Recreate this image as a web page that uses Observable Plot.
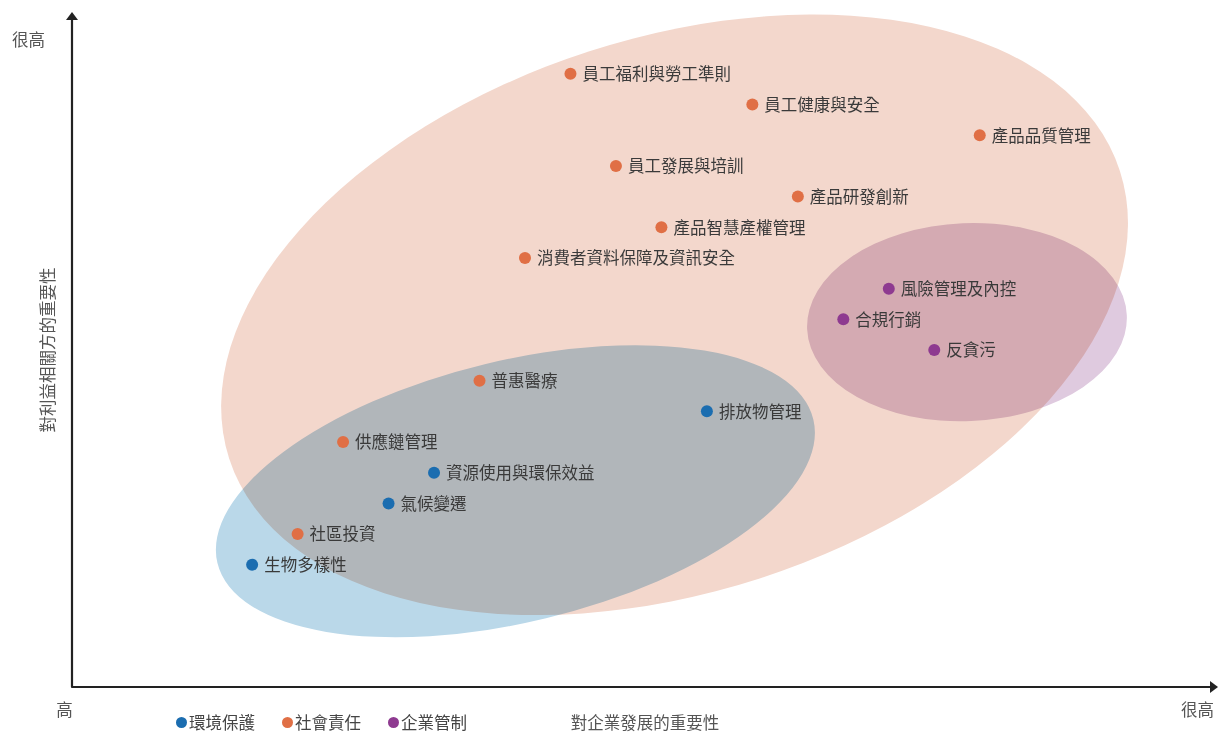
<!DOCTYPE html>
<html>
<head>
<meta charset="utf-8">
<script src="https://cdn.jsdelivr.net/npm/d3@7"></script>
<script src="https://cdn.jsdelivr.net/npm/@observablehq/plot@0.6"></script>
<style>
  body { margin: 0; background: #fff; font-family: "Noto Sans CJK TC", "Noto Sans", sans-serif; }
  #chart { width: 1220px; }
  .foot { position: relative; width: 1220px; height: 19px; margin-top: -5px; font-size: 16.5px; line-height: 19px; color: #444; }
  .foot .item { position: absolute; top: 0; display: flex; align-items: center; white-space: nowrap; }
  .foot .sw { width: 11px; height: 11px; border-radius: 50%; margin-right: 2px; }
  .foot .xtitle { position: absolute; left: 72px; width: 1146px; text-align: center; top: 0; color: #555; }
</style>
</head>
<body>
<div id="chart"></div>
<div class="foot" id="foot"></div>
<script>
// ---- data ----
const issues = [
  "員工福利與勞工準則", "員工健康與安全", "產品品質管理", "員工發展與培訓",
  "產品研發創新", "產品智慧產權管理", "消費者資料保障及資訊安全",
  "風險管理及內控", "合規行銷", "反貪污",
  "普惠醫療", "排放物管理", "供應鏈管理", "資源使用與環保效益",
  "氣候變遷", "社區投資", "生物多樣性"
];
const issueGroups = [
  "社會責任", "社會責任", "社會責任", "社會責任",
  "社會責任", "社會責任", "社會責任",
  "企業管制", "企業管制", "企業管制",
  "社會責任", "環境保護", "社會責任", "環境保護",
  "環境保護", "社會責任", "環境保護"
];
// importance to business development (x) and to stakeholders (y), as ranks 1..17
const businessRank = [8, 12, 17, 9, 13, 10, 7, 15, 14, 16, 6, 11, 3, 5, 4, 2, 1];
const stakeholderRank = [17, 16, 15, 14, 13, 12, 11, 10, 9, 8, 7, 6, 5, 4, 3, 2, 1];

const groupNames = ["環境保護", "社會責任", "企業管制"];
const groupColors = ["#1b6db0", "#e06f45", "#8e3a90"];

// grouping zones (centres in rank units)
const zoneGroups = ["社會責任", "環境保護", "企業管制"];
const zoneCenterX = [10.30, 6.80, 16.73];
const zoneCenterY = [9.13, 3.38, 8.89];

const xTickLabels = ["高", "很高"];
const yTickLabels = ["很高"];
const xTitle = "對企業發展的重要性";
const yTitle = "對利益相關方的重要性";

// ---- layout / style ----
const xDomain = [-2.95, 22.25];
const yDomain = [-3, 19];
const zoneShape = [
  { a: 468, b: 277, angle: 17.9 },
  { a: 306.5, b: 130.7, angle: 13.56 },
  { a: 160, b: 99, angle: 2.5 }
];
const zoneFill = { "社會責任": "#f3d7cc", "環境保護": "#bad8e9", "企業管制": "#dfcadf" };
const FONT = '"Noto Sans CJK TC", "Noto Sans", sans-serif';
const FS = 16.5;

const data = issues.map((name, i) => ({
  name, group: issueGroups[i], biz: businessRank[i], stake: stakeholderRank[i]
}));

function zonesMark(index, scales) {
  const g = d3.create("svg:g");
  zoneGroups.forEach((grp, i) => {
    const cx = scales.x(zoneCenterX[i]), cy = scales.y(zoneCenterY[i]);
    const s = zoneShape[i];
    g.append("ellipse")
      .attr("cx", cx).attr("cy", cy).attr("rx", s.a).attr("ry", s.b)
      .attr("transform", `rotate(${-s.angle} ${cx} ${cy})`)
      .attr("fill", zoneFill[grp])
      .style("mix-blend-mode", "multiply");
  });
  return g.node();
}

function axesMark(index, scales) {
  const x0 = scales.x(xDomain[0]), x1 = scales.x(xDomain[1]);
  const y0 = scales.y(yDomain[0]), y1 = scales.y(yDomain[1]);
  const g = d3.create("svg:g");
  g.append("path")
    .attr("d", `M${x0},${y1 + 6}V${y0}H${x1 - 6}`)
    .attr("fill", "none").attr("stroke", "#222").attr("stroke-width", 2.2)
    .attr("stroke-linejoin", "round");
  g.append("path").attr("d", `M${x0},${y1}L${x0 + 6},${y1 + 8}L${x0 - 6},${y1 + 8}Z`).attr("fill", "#222");
  g.append("path").attr("d", `M${x1},${y0}L${x1 - 8},${y0 - 6}L${x1 - 8},${y0 + 6}Z`).attr("fill", "#222");
  return g.node();
}

const axisText = { fill: "#555", fontSize: FS, textAnchor: "middle", lineAnchor: "middle" };

const plot = Plot.plot({
  width: 1220,
  height: 718,
  marginLeft: 72,
  marginRight: 2,
  marginTop: 12,
  marginBottom: 31,
  x: { domain: xDomain, axis: null },
  y: { domain: yDomain, axis: null },
  color: { domain: groupNames, range: groupColors },
  style: { fontFamily: FONT, fontSize: FS + "px", background: "white", overflow: "visible" },
  marks: [
    zonesMark,
    axesMark,
    Plot.dot(data, { x: "biz", y: "stake", fill: "group", r: 6 }),
    Plot.text(data, { x: "biz", y: "stake", text: "name", dx: 12, dy: 1, textAnchor: "start", fill: "#3a3a3a", fontSize: FS }),
    Plot.text([yTickLabels[0]], { ...axisText, frameAnchor: "top-left", dx: -44, dy: 28 }),
    Plot.text([xTickLabels[0]], { ...axisText, frameAnchor: "bottom-left", dx: -8, dy: 23 }),
    Plot.text([xTickLabels[1]], { ...axisText, frameAnchor: "bottom-right", dx: -21, dy: 23 }),
    Plot.text([yTitle], { ...axisText, frameAnchor: "left", dx: -24, rotate: -90 })
  ]
});
document.getElementById("chart").append(plot);

// legend + x title (below the svg)
const foot = document.getElementById("foot");
const legendLeft = [176, 282, 388];
groupNames.forEach((g, i) => {
  const item = document.createElement("div");
  item.className = "item";
  item.style.left = legendLeft[i] + "px";
  item.innerHTML = `<span class="sw" style="background:${groupColors[i]}"></span><span>${g}</span>`;
  foot.append(item);
});
const xt = document.createElement("div");
xt.className = "xtitle";
xt.textContent = xTitle;
foot.append(xt);
</script>
</body>
</html>
